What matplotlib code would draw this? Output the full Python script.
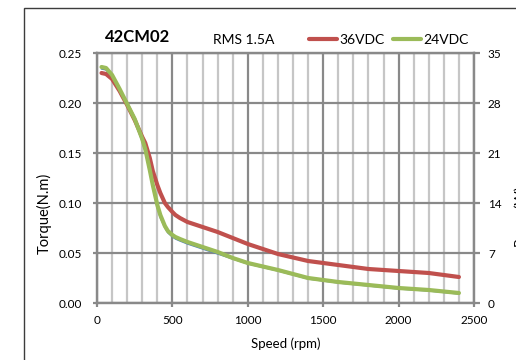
import matplotlib
matplotlib.use("Agg")
import matplotlib.pyplot as plt
from matplotlib.patches import Rectangle

plt.rcParams['font.family'] = ['Lato', 'DejaVu Sans']

# values
speed = [30, 60, 100, 150, 200, 250, 300, 320, 350, 370, 400, 420, 450, 470, 500, 520,
         550, 600, 700, 800, 900, 1000, 1200, 1400, 1600, 1800, 2000, 2200, 2400]
torque_36v = [0.230, 0.229, 0.224, 0.212, 0.198, 0.183, 0.166, 0.160, 0.145, 0.132, 0.118,
              0.110, 0.100, 0.096, 0.091, 0.088, 0.085, 0.081, 0.076, 0.071, 0.065, 0.059,
              0.049, 0.042, 0.038, 0.034, 0.032, 0.030, 0.026]
torque_24v = [0.236, 0.235, 0.228, 0.214, 0.199, 0.184, 0.164, 0.154, 0.133, 0.118, 0.098,
              0.088, 0.077, 0.072, 0.068, 0.066, 0.064, 0.061, 0.056, 0.051, 0.045, 0.040,
              0.033, 0.025, 0.021, 0.018, 0.015, 0.013, 0.010]
# thin blue series hidden under the green one
torque_hidden = [0.234, 0.233, 0.226, 0.212, 0.197, 0.182, 0.161, 0.151, 0.130, 0.115, 0.095,
                 0.085, 0.075, 0.070, 0.066, 0.064, 0.062, 0.059, 0.054, 0.049, 0.044, 0.039,
                 0.032, 0.024, 0.020, 0.017, 0.014, 0.012, 0.009]

y_ticks = [0.00, 0.05, 0.10, 0.15, 0.20, 0.25]
y2_ticks = [0, 7, 14, 21, 28, 35]
x_ticks = [0, 500, 1000, 1500, 2000, 2500]

W, H = 516, 360
fig = plt.figure(figsize=(W / 100, H / 100), dpi=100)
ax = fig.add_axes([97 / W, 1 - 303 / H, (474 - 97) / W, (303 - 53) / H])

grid_dark = '#898989'
grid_light = '#c6c6c6'

ax.plot(speed, torque_hidden, color='#4f81bd', lw=1.0, zorder=3, label='_nolegend_')
ax.plot(speed, torque_36v, color='#c0504d', lw=3.0, zorder=4, solid_capstyle='round',
        solid_joinstyle='round', label='36VDC')
ax.plot(speed, torque_24v, color='#9bbb59', lw=3.0, zorder=5, solid_capstyle='round',
        solid_joinstyle='round', label='24VDC')

ax.set_xlim(0, 2500)
ax.set_ylim(0, 0.25)
ax.set_xticks(x_ticks)
ax.set_xticks(range(0, 2501, 100), minor=True)
ax.set_yticks(y_ticks)
ax.set_yticklabels([f"{v:.2f}" for v in y_ticks])

ax.grid(which='minor', axis='x', color=grid_light, lw=1.6, zorder=0)
ax.grid(which='major', axis='x', color=grid_dark, lw=1.6, zorder=1)
ax.grid(which='major', axis='y', color=grid_dark, lw=1.6, zorder=1)
ax.set_axisbelow(True)

for s in ax.spines.values():
    s.set_color(grid_dark)
    s.set_linewidth(1.6)

ax.tick_params(axis='x', which='major', length=3, width=1.6, color=grid_dark,
               pad=6, labelsize=8.5)
ax.tick_params(axis='x', which='minor', length=0)
ax.tick_params(axis='y', length=3, width=1.6, color=grid_dark, pad=8, labelsize=8.5)

ax2 = ax.twinx()
ax2.set_ylim(0, 35)
ax2.set_yticks(y2_ticks)
ax2.tick_params(axis='y', length=4, width=1.6, color=grid_dark, pad=6, labelsize=8.5)
for s in ax2.spines.values():
    s.set_color(grid_dark)
    s.set_linewidth(1.6)

fig.text(44 / W, 1 - 213 / H, 'Torque(N.m)', rotation=90, ha='center', va='center',
         fontsize=10.5)
fig.text(286 / W, 1 - 344 / H, 'Speed (rpm)', ha='center', va='center', fontsize=9.5)
fig.text(105 / W, 1 - 37 / H, '42CM02', ha='left', va='center', fontsize=12,
         fontweight='bold')
fig.text(213 / W, 1 - 40 / H, 'RMS 1.5A', ha='left', va='center', fontsize=10)
# right axis title, mostly cut off by the figure edge as in the source image
fig.text(513 / W, 1 - 215 / H, 'Power(W)', rotation=90, ha='left', va='center',
         fontsize=10)

ax.legend(loc='center left', bbox_to_anchor=(309 / W, 1 - 40 / H),
          bbox_transform=fig.transFigure, ncol=2, frameon=False, fontsize=10,
          handlelength=2.0, handletextpad=0.2, columnspacing=0.6,
          borderpad=0, borderaxespad=0)

# outer chart frame
fig.add_artist(Rectangle((23.5 / W, -0.1), 1.2, 1 - 8 / H + 0.1, transform=fig.transFigure,
                         fill=False, edgecolor='#3c3c3c', lw=1.0))

fig.savefig('out.png', dpi=100)
